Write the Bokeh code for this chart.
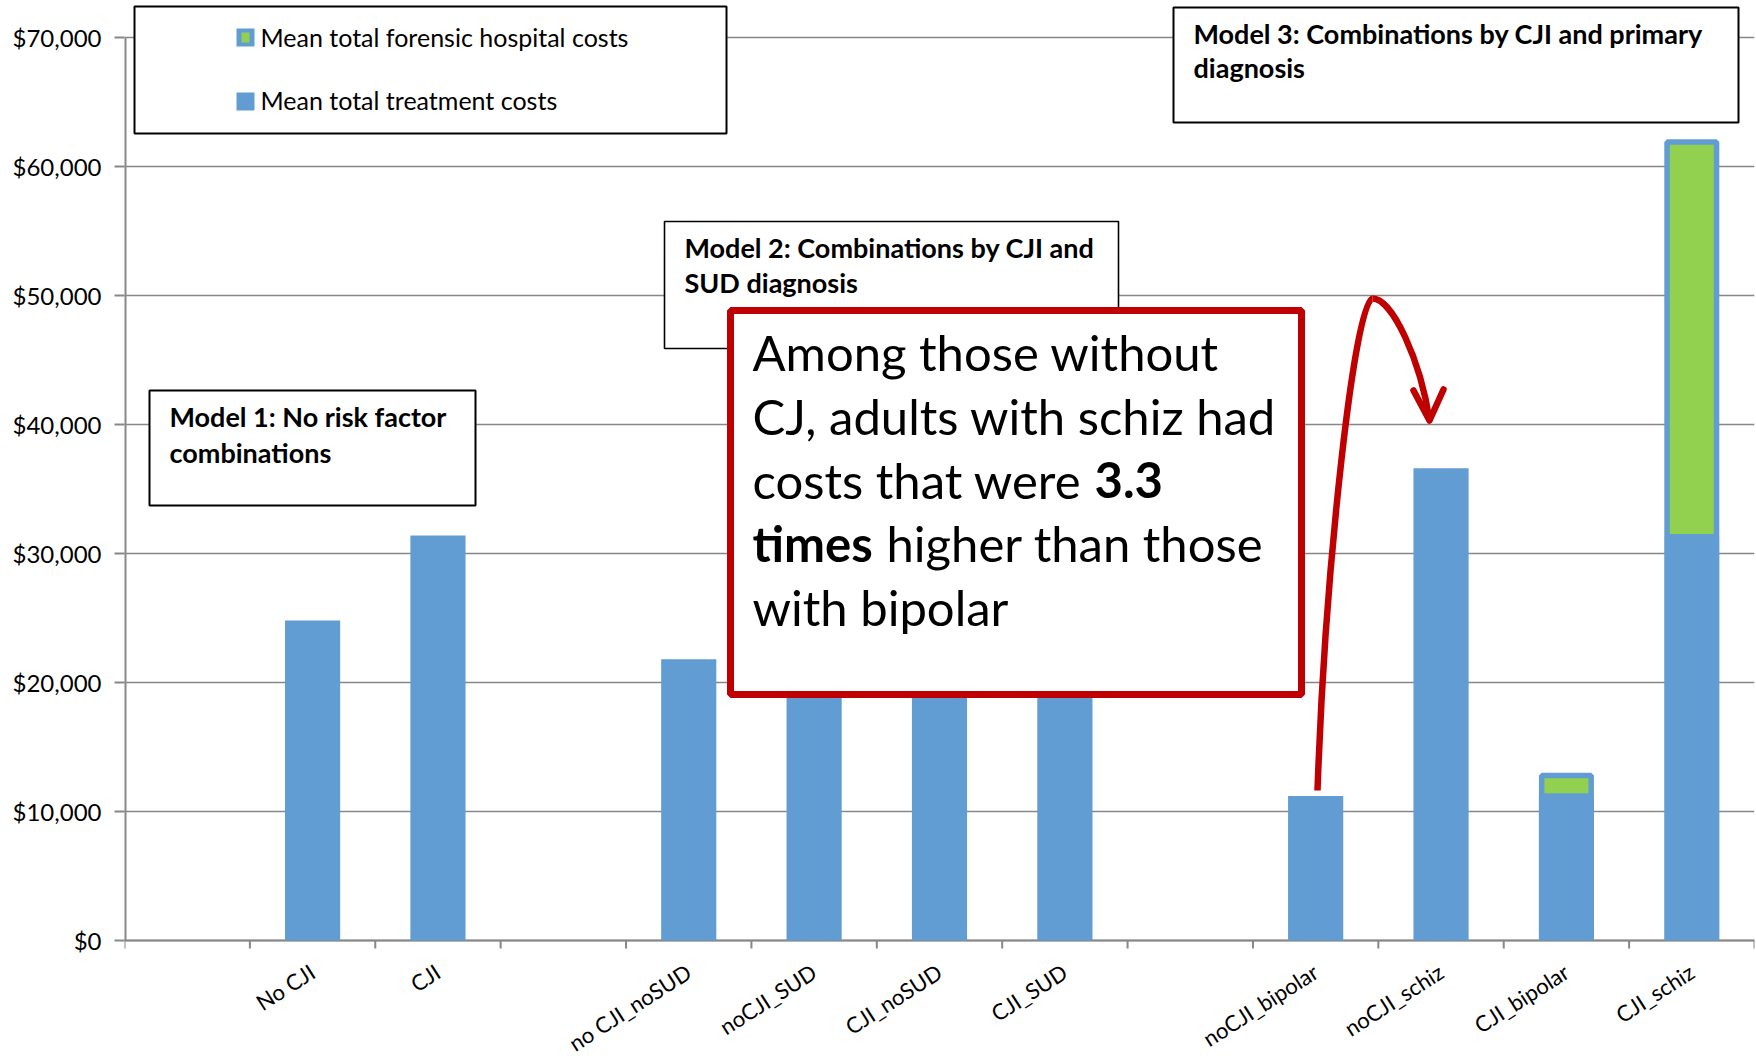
import numpy as np
from bokeh.plotting import figure
from bokeh.models import (ColumnDataSource, FixedTicker, NumeralTickFormatter,
                          BoxAnnotation, Label, LabelSet)
from bokeh.core.properties import value
from bokeh.embed import file_html
from bokeh.resources import INLINE

# ---- data -------------------------------------------------------------
# Blank categories act as spacers between the three model groups.
categories = ["", "No CJI", "CJI", "",
              "no CJI_noSUD", "noCJI_SUD", "CJI_noSUD", "CJI_SUD", "",
              "noCJI_bipolar", "noCJI_schiz", "CJI_bipolar", "CJI_schiz"]
treatment_costs = [np.nan, 24800, 31400, np.nan,
                   21800, 28500, 25300, 34200, np.nan,
                   11200, 36600, 11200, 31300]
forensic_costs = [np.nan, 0, 0, np.nan,
                  0, 0, 0, 0, np.nan,
                  0, 0, 1600, 30600]
y_ticks = [0, 10000, 20000, 30000, 40000, 50000, 60000, 70000]
series_names = ["Mean total forensic hospital costs", "Mean total treatment costs"]
model_titles = [
    ["Model 1: No risk factor", "combinations"],
    ["Model 2: Combinations by CJI and", "SUD diagnosis"],
    ["Model 3: Combinations by CJI and primary", "diagnosis"],
]

# ---- layout -----------------------------------------------------------
W, H = 1756, 1056
LEFT, RIGHT_PAD = 124, 2          # y axis panel / right margin
AXIS_TOP_PX, AXIS_BOTTOM_PX = 37, 940   # where 70,000 and 0 sit on the canvas
FRAME_W = W - LEFT - RIGHT_PAD
N = len(categories)
Y_MAX = y_ticks[-1]
PER_PX = Y_MAX / (AXIS_BOTTOM_PX - AXIS_TOP_PX)

BLUE = "#619DD2"
GREEN = "#92D050"
RED = "#C00000"
GRID = "#878787"
FONT = "Lato"


def xd(px):
    """canvas pixel x -> data x"""
    return (px - LEFT) * N / FRAME_W


def yd(py):
    """canvas pixel y -> data y"""
    return (AXIS_BOTTOM_PX - py) * PER_PX


# The frame spans the full canvas height so that captions above the top
# gridline and category labels under the axis are not clipped.
p = figure(width=W, height=H, x_range=(0, N), y_range=(yd(H), yd(0)),
           output_backend="svg", toolbar_location=None, tools="",
           x_axis_location=None, y_axis_location="left")
p.min_border_left = LEFT
p.min_border_right = RIGHT_PAD
p.min_border_top = 0
p.min_border_bottom = 0
p.outline_line_color = None
p.background_fill_color = "white"
p.border_fill_color = "white"

p.yaxis.ticker = FixedTicker(ticks=y_ticks)
p.yaxis.formatter = NumeralTickFormatter(format="$0,0")
p.yaxis.major_tick_out = 10
p.yaxis.major_tick_in = 0
p.yaxis.minor_tick_line_color = None
p.yaxis.axis_line_color = None
p.yaxis.major_tick_line_color = GRID
p.yaxis.major_tick_line_width = 2
p.yaxis.major_label_text_font = FONT
p.yaxis.major_label_text_font_size = "24px"
p.yaxis.major_label_text_color = "black"
p.yaxis.major_label_standoff = 13

p.xgrid.visible = False
p.ygrid.ticker = FixedTicker(ticks=y_ticks)
p.ygrid.grid_line_color = GRID
p.ygrid.grid_line_width = 1.6

# axis lines and category boundary ticks
p.segment(x0=[0], y0=[0], x1=[0], y1=[Y_MAX], line_color=GRID, line_width=4)
p.segment(x0=[0], y0=[0], x1=[N], y1=[0], line_color=GRID, line_width=2)
bounds = np.arange(N + 1)
p.segment(x0=bounds, y0=np.zeros(N + 1), x1=bounds,
          y1=np.full(N + 1, yd(AXIS_BOTTOM_PX + 8)),
          line_color=GRID, line_width=2)

# ---- bars -------------------------------------------------------------
treat = np.array(treatment_costs, dtype=float)
foren = np.array(forensic_costs, dtype=float)
centers = np.arange(N) + 0.5
foren_top = np.where(foren > 0, treat + foren, np.nan)

src = ColumnDataSource(dict(x=centers, treat=treat, foren_top=foren_top,
                            label=categories))
p.vbar(x="x", top="treat", bottom=0, width=0.44, source=src,
       fill_color=BLUE, line_color=None)
p.vbar(x="x", top="foren_top", bottom="treat", width=0.395, source=src,
       fill_color=GREEN, line_color=BLUE, line_width=5.5)

# category labels under the axis
p.add_layout(LabelSet(x="x", y=0, text="label", source=src,
                      x_offset=0, y_offset=-29, angle=0.57,
                      text_align="right", text_baseline="middle",
                      text_font=value(FONT), text_font_size=value("22px"),
                      text_color="black"))


# ---- boxes and text ---------------------------------------------------
def box(l, t, r, b, line_color="black", line_width=2):
    p.add_layout(BoxAnnotation(left=xd(l), right=xd(r), top=yd(t), bottom=yd(b),
                               fill_color="white", fill_alpha=1,
                               line_color=line_color, line_alpha=1,
                               line_width=line_width))


def swatch(l, t, r, b, color):
    p.add_layout(BoxAnnotation(left=xd(l), right=xd(r), top=yd(t), bottom=yd(b),
                               fill_color=color, fill_alpha=1, line_color=None))


def text(px, py, s, size="25px", style="normal"):
    p.add_layout(Label(x=xd(px), y=yd(py), text=s, text_font=FONT,
                       text_font_size=size, text_font_style=style,
                       text_color="black", text_align="left",
                       text_baseline="middle"))


# legend
box(134, 6, 726, 133)
swatch(236, 28, 254, 46, BLUE)
swatch(241, 32, 249, 42, GREEN)
swatch(236, 92, 254, 110, BLUE)
text(260, 36, series_names[0])
text(260, 99, series_names[1])

# model captions
CAP = "27px"
box(149, 390, 475, 505)
text(169, 416, model_titles[0][0], CAP, "bold")
text(169, 452, model_titles[0][1], CAP, "bold")

box(664, 221, 1118, 348, line_width=1.6)
text(684, 247, model_titles[1][0], CAP, "bold")
text(684, 282, model_titles[1][1], CAP, "bold")

box(1173, 7, 1738, 122)
text(1193, 33, model_titles[2][0], CAP, "bold")
text(1193, 67, model_titles[2][1], CAP, "bold")

# callout
box(730, 310, 1301, 694, line_color=RED, line_width=7)
BIG = "49px"
text(752, 351, "Among those without", BIG)
text(752, 415, "CJ, adults with schiz had", BIG)
text(752, 479, "costs that were", BIG)
text(1094, 479, "3.3", BIG, "bold")
text(752, 542, "times", BIG, "bold")
text(886, 542, "higher than those", BIG)
text(752, 606, "with bipolar", BIG)

# curved arrow from the bipolar bar to the schizophrenia bar
p.bezier(x0=[xd(1317), xd(1372)], y0=[yd(790), yd(298)],
         x1=[xd(1372), xd(1429)], y1=[yd(298), yd(420)],
         cx0=[xd(1325), xd(1392)], cy0=[yd(560), yd(298)],
         cx1=[xd(1355), xd(1420)], cy1=[yd(298), yd(360)],
         line_color=RED, line_width=6.5)
p.line(x=[xd(1413), xd(1429), xd(1443)], y=[yd(390), yd(420), yd(389)],
       line_color=RED, line_width=6.5, line_join="round", line_cap="round")

open("out.html", "w").write(file_html(p, INLINE))
